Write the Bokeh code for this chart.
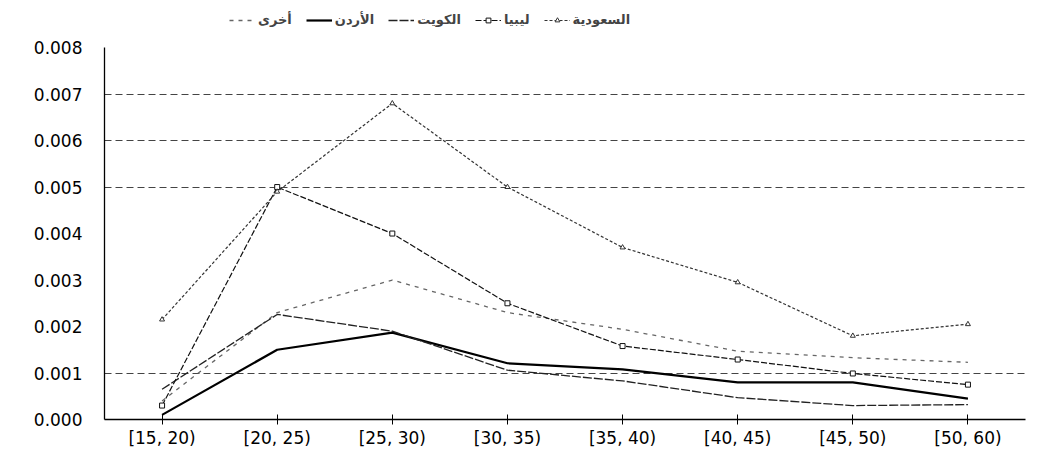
from bokeh.plotting import figure
from bokeh.models import FactorRange, Range1d, Legend, LegendItem, NumeralTickFormatter, FixedTicker
from bokeh.embed import file_html
from bokeh.resources import INLINE

categories = ["[15, 20)", "[20, 25)", "[25, 30)", "[30, 35)", "[35, 40)",
              "[40, 45)", "[45, 50)", "[50, 60)"]
saudi = [0.00215, 0.0049, 0.0068, 0.0050, 0.0037, 0.00295, 0.0018, 0.00205]
libya = [0.0003, 0.0050, 0.0040, 0.0025, 0.00158, 0.00129, 0.00099, 0.00075]
kuwait = [0.00065, 0.00226, 0.0019, 0.00106, 0.00083, 0.00047, 0.0003, 0.00032]
jordan = [0.0001, 0.0015, 0.00187, 0.00121, 0.00108, 0.0008, 0.0008, 0.00045]
other = [0.0004, 0.0023, 0.0030, 0.0023, 0.00194, 0.00147, 0.00133, 0.00123]
series_names = ["أخرى", "الأردن", "الكويت", "ليبيا", "السعودية"]
y_ticks = [0.0, 0.001, 0.002, 0.003, 0.004, 0.005, 0.006, 0.007, 0.008]
grid_values = [0.001, 0.005, 0.006, 0.007]

p = figure(width=1030, height=455, x_range=FactorRange(factors=categories),
           y_range=Range1d(0, 0.00897), output_backend="svg", toolbar_location=None,
           min_border_left=104, min_border_right=5, min_border_top=2, min_border_bottom=36)
p.outline_line_color = None
p.background_fill_color = "white"

p.xgrid.visible = False
p.ygrid.ticker = FixedTicker(ticks=grid_values)
p.ygrid.grid_line_color = "#444444"
p.ygrid.grid_line_dash = "7 4"
p.ygrid.grid_line_width = 1

p.yaxis.bounds = (y_ticks[0], y_ticks[-1])
p.yaxis.ticker = FixedTicker(ticks=y_ticks)
p.yaxis.formatter = NumeralTickFormatter(format="0.000")
p.yaxis.major_tick_out = 0
p.yaxis.major_tick_in = 0
p.yaxis.minor_tick_out = 0
p.yaxis.minor_tick_in = 0
p.yaxis.major_label_standoff = 22
p.xaxis.major_tick_in = 5
p.xaxis.major_tick_out = 5
p.xaxis.major_label_standoff = 3
for ax in (p.xaxis, p.yaxis):
    ax.axis_line_color = "black"
    ax.axis_line_width = 1.3
    ax.major_tick_line_color = "black"
    ax.major_label_text_font = "DejaVu Sans"
    ax.major_label_text_font_size = "17px"
    ax.major_label_text_color = "black"

r_other = p.line(categories, other, line_color="#666666", line_width=1.3, line_dash="4 5")
r_jordan = p.line(categories, jordan, line_color="black", line_width=2.2)
r_kuwait = p.line(categories, kuwait, line_color="#222222", line_width=1.3, line_dash="9 2")
r_libya = p.line(categories, libya, line_color="#111111", line_width=1.2, line_dash="6 2")
m_libya = p.scatter(categories, libya, marker="square", size=5, fill_color="white",
                    line_color="#111111")
r_saudi = p.line(categories, saudi, line_color="#333333", line_width=1.2, line_dash="3 2")
m_saudi = p.scatter(categories, saudi, marker="triangle", size=5, fill_color="white",
                    line_color="#333333")

legend = Legend(items=[
    LegendItem(label=series_names[0], renderers=[r_other]),
    LegendItem(label=series_names[1], renderers=[r_jordan]),
    LegendItem(label=series_names[2], renderers=[r_kuwait]),
    LegendItem(label=series_names[3], renderers=[r_libya, m_libya]),
    LegendItem(label=series_names[4], renderers=[r_saudi, m_saudi]),
], orientation="horizontal", location=(125, 392))
legend.label_text_font = "DejaVu Sans"
legend.label_text_font_style = "bold"
legend.label_text_font_size = "13px"
legend.border_line_color = None
legend.background_fill_alpha = 0
legend.glyph_width = 26
legend.glyph_height = 12
legend.spacing = 14
legend.label_standoff = 3
legend.padding = 4
legend.margin = 0
p.add_layout(legend, "center")

open("out.html", "w").write(file_html(p, INLINE))
